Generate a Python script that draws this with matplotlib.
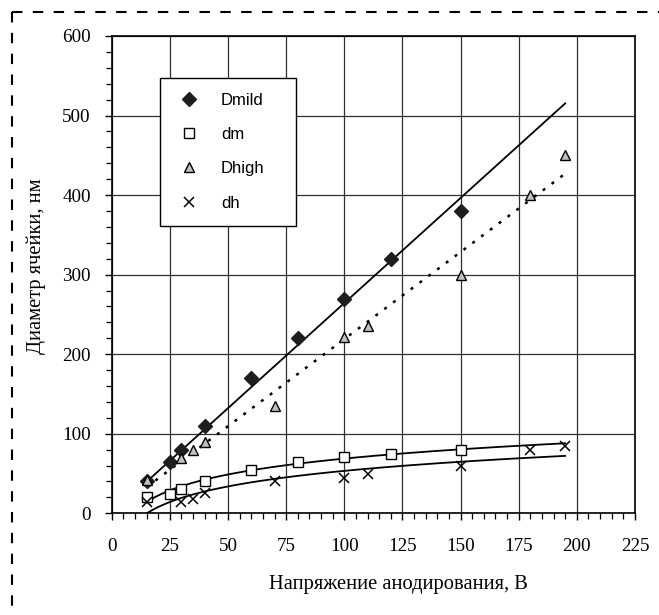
import numpy as np
import matplotlib
matplotlib.use("Agg")
import matplotlib.pyplot as plt
from matplotlib.lines import Line2D

# ---- data ----
dmild_x = [15, 25, 30, 40, 60, 80, 100, 120, 150]
dmild_y = [40, 65, 80, 110, 170, 220, 270, 320, 380]

dm_x = [15, 25, 30, 40, 60, 80, 100, 120, 150]
dm_y = [20, 24, 30, 41, 55, 65, 71, 74, 79]

dhigh_x = [15, 30, 35, 40, 70, 100, 110, 150, 180, 195]
dhigh_y = [42, 70, 79, 90, 135, 221, 235, 300, 400, 450]

dh_x = [15, 30, 35, 40, 70, 100, 110, 150, 180, 195]
dh_y = [14, 14, 18, 25, 41, 44, 50, 60, 79, 85]

trend_range = [15, 195]

x_ticks = [0, 25, 50, 75, 100, 125, 150, 175, 200, 225]
y_ticks = [0, 100, 200, 300, 400, 500, 600]

x_label = "Напряжение анодирования, В"
y_label = "Диаметр ячейки, нм"

# ---- figure ----
W, H = 659, 615
fig = plt.figure(figsize=(W / 100, H / 100), dpi=100)
ax = fig.add_axes([111.7 / W, (H - 513.3) / H, (635 - 111.7) / W, (513.3 - 36) / H])

serif = "Liberation Serif"
sans = "Liberation Sans"

# trend lines (fits of the data)
tx = np.linspace(trend_range[0], trend_range[1], 200)
for xs, ys, style in [(dmild_x, dmild_y, "-"), (dhigh_x, dhigh_y, (0, (1.2, 3.2)))]:
    xa, ya = np.asarray(xs, float), np.asarray(ys, float)
    k = np.sum(xa * ya) / np.sum(xa * xa)
    lw = 1.3 if style == "-" else 1.8
    ax.plot(tx, k * tx, color="black", lw=lw, linestyle=style, zorder=3)
for xs, ys in [(dm_x, dm_y), (dh_x, dh_y)]:
    a, b = np.polyfit(np.log(xs), ys, 1)
    ax.plot(tx, a * np.log(tx) + b, color="black", lw=1.3, zorder=3)

# markers
ax.plot(dmild_x, dmild_y, linestyle="none", marker="D", ms=6.8,
        mfc="#1e1e1e", mec="#1e1e1e", label="Dmild", zorder=4)
ax.plot(dm_x, dm_y, linestyle="none", marker="s", ms=6.5,
        mfc="white", mec="black", mew=1.0, label="dm", zorder=4)
ax.plot(dhigh_x, dhigh_y, linestyle="none", marker="^", ms=7.5,
        mfc="#c0c0c0", mec="black", mew=1.0, label="Dhigh", zorder=4)
ax.plot(dh_x, dh_y, linestyle="none", marker="x", ms=6.5,
        color="black", mew=1.1, label="dh", zorder=4)

# axes
ax.set_xlim(0, 225)
ax.set_ylim(0, 600)
ax.set_xticks(x_ticks)
ax.set_yticks(y_ticks)
ax.set_xticks(np.arange(0, 226, 5), minor=True)
ax.set_yticks(np.arange(0, 601, 20), minor=True)
ax.tick_params(axis="both", which="major", direction="out", length=5, width=1.0,
               labelsize=13.8, colors="black")
ax.tick_params(axis="both", which="minor", direction="out", length=4, width=0.9)
ax.tick_params(axis="x", which="major", pad=12.5)
ax.tick_params(axis="y", which="major", pad=10)
for lab in ax.get_xticklabels() + ax.get_yticklabels():
    lab.set_fontfamily(serif)

ax.grid(True, which="major", color="#303030", lw=0.9, zorder=0)
ax.set_axisbelow(True)
for sp in ax.spines.values():
    sp.set_linewidth(1.2)
    sp.set_color("black")

ax.set_xlabel(x_label, fontfamily=serif, fontsize=14.8)
ax.set_ylabel(y_label, fontfamily=serif, fontsize=14.8)
ax.xaxis.label.set_va("center")
ax.yaxis.label.set_va("center")
ax.xaxis.set_label_coords((398 - 111.7) / 523.3, (513.3 - 585) / 477.3)
ax.yaxis.set_label_coords((36 - 111.7) / 523.3, (513.3 - 266.5) / 477.3)

# legend
lx0 = (160 - 111.7) / 523.3
ly1 = (513.3 - 78) / 477.3
lw_ = (296 - 160) / 523.3
leg = ax.legend(loc="upper left", bbox_to_anchor=(lx0, ly1 - 0.4, lw_, 0.4),
                mode="expand", borderaxespad=0, frameon=True, fancybox=False,
                prop={"family": sans, "size": 12}, labelspacing=1.15,
                borderpad=0.9, handlelength=1.7, handletextpad=1.05,
                numpoints=1)
leg.get_frame().set_edgecolor("black")
leg.get_frame().set_linewidth(1.0)
leg.get_frame().set_facecolor("white")
leg.get_frame().set_alpha(1)
leg.set_zorder(10)

# dashed border of the figure
fig.add_artist(Line2D([12 / W, 1], [1 - 12 / H, 1 - 12 / H], transform=fig.transFigure,
                      color="black", lw=1.5, linestyle=(0, (5, 5))))
fig.add_artist(Line2D([12 / W, 12 / W], [1 - 12 / H, 0], transform=fig.transFigure,
                      color="black", lw=1.5, linestyle=(0, (5, 5))))

fig.savefig("out.png", dpi=100)
